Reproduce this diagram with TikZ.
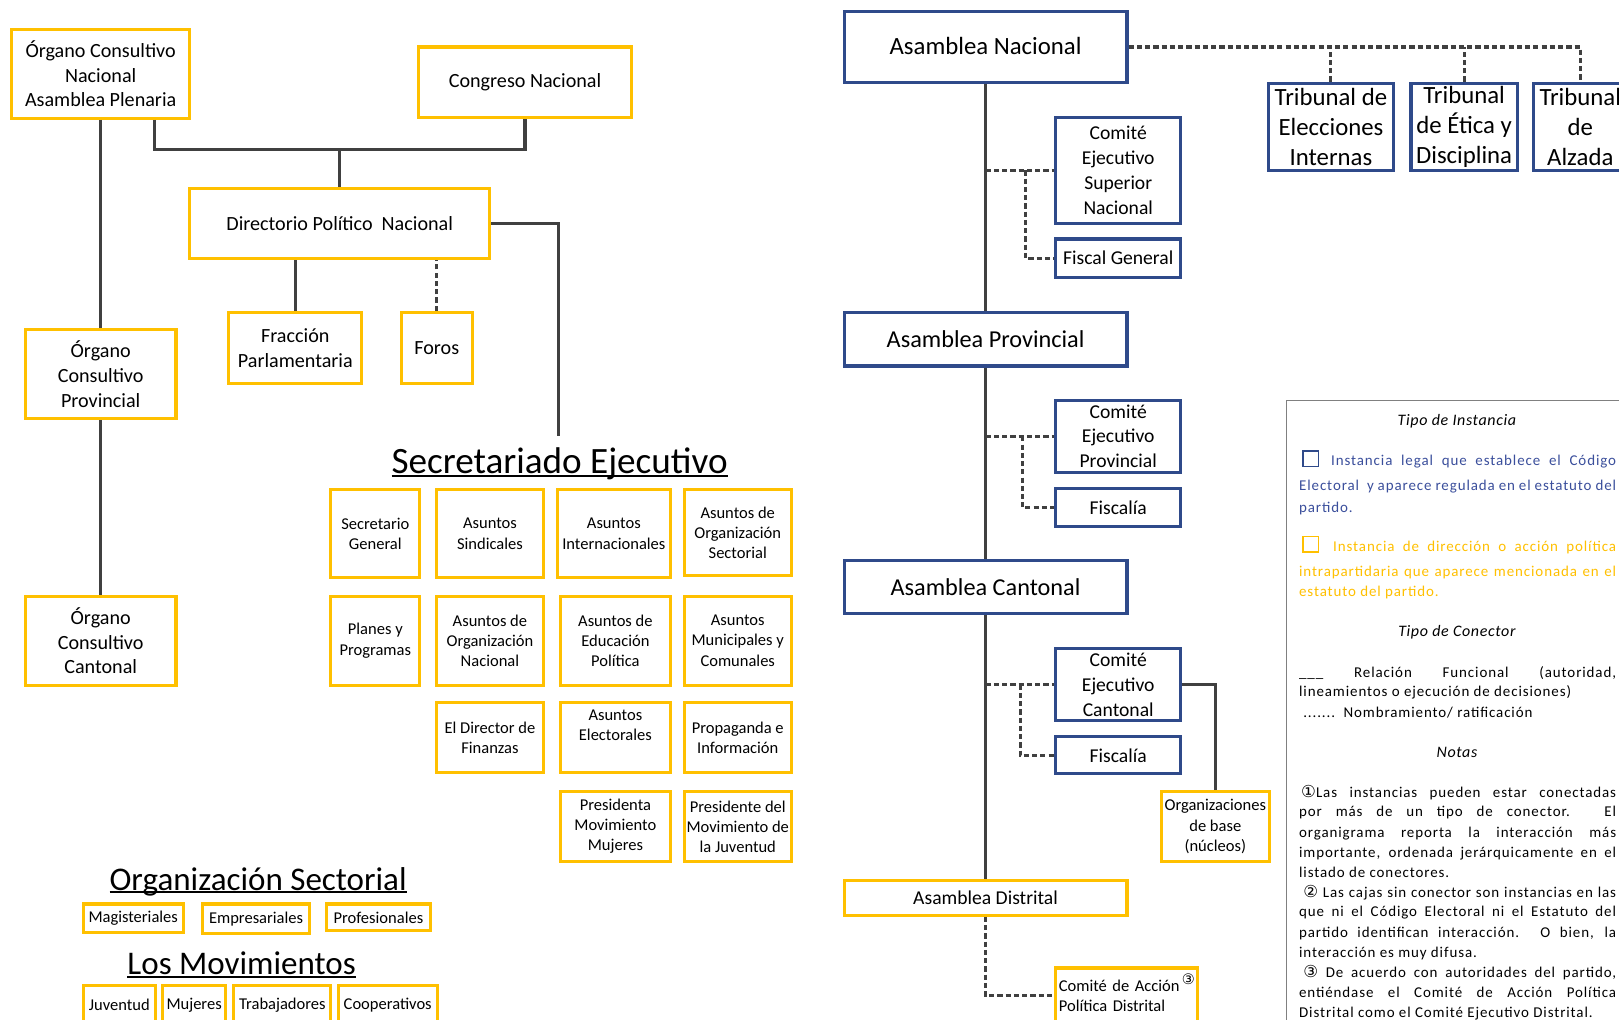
\documentclass[tikz,border=0pt]{standalone}
\usepackage{fontspec}
\setmainfont{Carlito}
\newfontfamily\legfont[LetterSpace=6]{Carlito}
\newfontfamily\headfont[LetterSpace=4]{Carlito}
\newfontfamily\djv{DejaVu Sans}
\definecolor{myyellow}{HTML}{FFC000}
\definecolor{myblue}{HTML}{2F4A8A}
\definecolor{mytext}{HTML}{3B4F9C}
\definecolor{mygray}{HTML}{404040}
\definecolor{legline}{HTML}{808080}
\newcommand\fs[2]{\fontsize{#1}{#2}\selectfont}
\newsavebox\ulbox
\newcommand\ulx[1]{\sbox\ulbox{#1}\rlap{\rule[-0.09em]{\wd\ulbox}{0.055em}}\usebox\ulbox}
\newcommand\circnum[1]{{\djv\fs{16}{16}#1}}
\tikzset{
  box/.style={draw, line width=3pt, inner sep=0pt, anchor=north west, align=center},
  ybox/.style={box, draw=myyellow},
  bbox/.style={box, draw=myblue},
  conn/.style={draw=mygray, line width=3pt},
  nomb/.style={conn, dash pattern=on 5pt off 3pt},
  gridtxt/.style={font=\fs{16}{19.5}},
  legtxt/.style={anchor=base west, inner sep=0pt, font=\legfont\fs{14.5}{17}},
  leghead/.style={inner sep=0pt, font=\headfont\itshape\fs{15.5}{17}},
  title/.style={inner sep=0pt, anchor=base, font=\fs{32}{34}},
}
\newcommand\jl[4]{\node[legtxt] (#1) at (#2,#3) {\makebox[\dimexpr1565pt-#2pt\relax][s]{#4}};}
\begin{document}
\begin{tikzpicture}[x=1pt,y=-1pt]
\useasboundingbox (0,0) rectangle (1568,987);
\fill[white] (0,0) rectangle (1568,987);

% ---------------- left part ----------------
\node[ybox, minimum width=172, minimum height=86, font=\fs{19.5}{24}] (ocn) at (10,27) {Órgano Consultivo\\Nacional\\Asamblea Plenaria};
\node[ybox, minimum width=206, minimum height=68, font=\fs{19.5}{24}] (cn) at (404,44) {Congreso Nacional};
\node[ybox, minimum width=291, minimum height=68, font=\fs{19.5}{24}] (dpn) at (182,181) {Directorio Político~ Nacional};
\node[ybox, minimum width=129, minimum height=69, font=\fs{19.5}{24}] (fp) at (220,301) {Fracción\\Parlamentaria};
\node[ybox, minimum width=69, minimum height=69, font=\fs{19.5}{24}] (foros) at (387,301) {Foros};
\node[ybox, minimum width=146, minimum height=86, font=\fs{19.5}{24}] (ocp) at (23,318) {Órgano\\Consultivo\\Provincial};
\node[ybox, minimum width=146, minimum height=86, font=\fs{19.5}{24}] (occ) at (23,576) {Órgano\\Consultivo\\Cantonal};

\coordinate (j1) at (0,145);
\coordinate (seTop) at (541,422);
\draw[conn] (ocn.south) -- (ocp.north);
\draw[conn] (ocp.south) -- (occ.north);
\draw[conn] ([xshift=52pt]ocn.south) |- (cn.south |- j1) -- (cn.south);
\draw[conn] (dpn.north) -- (dpn.north |- j1);
\draw[conn] (fp.north) -- (fp.north |- dpn.south);
\draw[nomb] (foros.north) -- (foros.north |- dpn.south);
\draw[conn] (dpn.east) -| (seTop);

\node[title, font=\fs{36}{38}] (se) at (542,459) {\ulx{Secretariado Ejecutivo}};

% grid
\node[ybox, gridtxt, minimum width=86, minimum height=85] (g11) at (319,473) {Secretario\\General};
\node[ybox, gridtxt, minimum width=104, minimum height=85] (g12) at (421,473) {Asuntos\\Sindicales};
\node[ybox, gridtxt, minimum width=110, minimum height=85] (g13) at (538,473) {Asuntos\\Internacionales};
\node[ybox, gridtxt, minimum width=104, minimum height=83] (g14) at (661,473) {Asuntos de\\Organización\\Sectorial};
\node[ybox, gridtxt, minimum width=86, minimum height=86] (g21) at (319,576) {Planes y\\Programas};
\node[ybox, gridtxt, minimum width=104, minimum height=86] (g22) at (421,576) {Asuntos de\\Organización\\Nacional};
\node[ybox, gridtxt, minimum width=107, minimum height=86] (g23) at (541,576) {Asuntos de\\Educación\\Política};
\node[ybox, gridtxt, minimum width=104, minimum height=86] (g24) at (661,576) {Asuntos\\Municipales y\\Comunales};
\node[ybox, gridtxt, minimum width=104, minimum height=68] (g32) at (421,679) {El Director de\\Finanzas};
\node[ybox, gridtxt, minimum width=107, minimum height=68] (g33) at (541,679) {Asuntos\\Electorales\\[4pt]};
\node[ybox, gridtxt, minimum width=104, minimum height=68] (g34) at (661,679) {Propaganda e\\Información};
\node[ybox, gridtxt, minimum width=107, minimum height=68] (g43) at (541,765) {Presidenta\\Movimiento\\Mujeres};
\node[ybox, gridtxt, minimum width=104, minimum height=68] (g44) at (661,765) {Presidente del\\Movimiento de\\la Juventud};

% organizacion sectorial
\node[title] (os) at (250,862) {\ulx{Organización Sectorial}};
\node[ybox, gridtxt, minimum width=97, minimum height=28] (mag) at (79,874) {Magisteriales};
\node[ybox, gridtxt, minimum width=103, minimum height=29] (emp) at (195,874) {Empresariales};
\node[ybox, gridtxt, minimum width=100, minimum height=26] (pro) at (315,874) {Profesionales};
\node[title] (lm) at (234,944) {\ulx{Los Movimientos}};
\node[ybox, gridtxt, minimum width=70, minimum height=38] (juv) at (79,953) {Juventud};
\node[ybox, gridtxt, minimum width=61, minimum height=38] (muj) at (156,953) {Mujeres};
\node[ybox, gridtxt, minimum width=94, minimum height=38] (tra) at (225,953) {Trabajadores};
\node[ybox, gridtxt, minimum width=96, minimum height=38] (coo) at (326,953) {Cooperativos};

% ---------------- right part ----------------
\node[bbox, minimum width=274, minimum height=68, font=\fs{24}{29}] (an) at (816,10) {\raisebox{2pt}{Asamblea Nacional}};
\node[bbox, minimum width=121, minimum height=85, font=\fs{24}{29}] (t1) at (1227,79) {Tribunal de\\Elecciones\\Internas};
\node[bbox, minimum width=103, minimum height=85, font=\fs{24}{29}] (t2) at (1365,79) {Tribunal\\de Ética y\\Disciplina};
\node[bbox, minimum width=90, minimum height=85, font=\fs{24}{29}] (t3) at (1484,79) {Tribunal\\de\\Alzada};
\node[bbox, minimum width=121, minimum height=103, font=\fs{19}{24.3}] (cesn) at (1021,112) {Comité\\Ejecutivo\\Superior\\Nacional};
\node[bbox, minimum width=121, minimum height=37, font=\fs{19}{24}] (fg) at (1021,230) {\raisebox{-2pt}{Fiscal General}};
\node[bbox, minimum width=274, minimum height=52, font=\fs{23.5}{29}] (pr) at (816,301) {Asamblea Provincial};
\node[bbox, minimum width=121, minimum height=70, font=\fs{19}{24}] (cep) at (1021,386) {Comité\\Ejecutivo\\Provincial};
\node[bbox, minimum width=121, minimum height=36, font=\fs{19}{24}] (fi1) at (1021,472) {\raisebox{-3pt}{Fiscalía}};
\node[bbox, minimum width=274, minimum height=52, font=\fs{23.5}{29}] (ca) at (816,541) {Asamblea Cantonal};
\node[bbox, minimum width=121, minimum height=69, font=\fs{19}{24}] (cec) at (1021,627) {Comité\\Ejecutivo\\Cantonal};
\node[bbox, minimum width=121, minimum height=36, font=\fs{19}{24}] (fi2) at (1021,712) {\raisebox{-3pt}{Fiscalía}};
\node[ybox, minimum width=105, minimum height=68, font=\fs{16}{19.5}] (ob) at (1123,765) {Organizaciones\\de base\\(núcleos)};
\node[ybox, minimum width=274, minimum height=34, font=\fs{19}{24}] (di) at (816,851) {Asamblea Distrital};
\node[ybox, minimum width=137, minimum height=54, font=\fs{16}{19}, text width=131pt, inner xsep=3pt, align=left] (cap) at (1021,936) {Comité de Acción\\Política Distrital};
\node[inner sep=0pt, font=\djv\fs{14}{14}] (n3) at (1151,948) {③};

\draw[conn] (an.south) -- (pr.north);
\draw[conn] (pr.south) -- (ca.north);
\draw[conn] (ca.south) -- (di.north);
\draw[nomb] (an.east) -| (t3.north);
\draw[nomb] (t1.north) -- (t1.north |- an.east);
\draw[nomb] (t2.north) -- (t2.north |- an.east);
\draw[nomb] (an.south |- cesn.west) -- (cesn.west);
\draw[nomb] ([xshift=-28pt]cesn.west) |- (fg.west);
\draw[nomb] (pr.south |- cep.west) -- (cep.west);
\draw[nomb] ([xshift=-31pt]cep.west) |- (fi1.west);
\draw[nomb] (ca.south |- cec.west) -- (cec.west);
\draw[nomb] ([xshift=-33pt]cec.west) |- (fi2.west);
\draw[conn] (cec.east) -| (ob.north);
\draw[nomb] (di.south) |- (cap.west);

% ---------------- legend ----------------
\node[draw=legline, line width=1.5pt, anchor=north west, minimum width=360, minimum height=630, inner sep=0pt] (leg) at (1245,387) {};
\node[leghead] (h1) at (1411,408) {Tipo de Instancia};
\node[draw=myblue, line width=1.5pt, minimum size=15pt, inner sep=0pt, anchor=north west] (sq1) at (1261,436) {};
\begin{scope}[every node/.append style={text=mytext}]
\jl{l1}{1289}{451}{Instancia legal que establece el Código}
\jl{l2}{1258}{475}{Electoral\ \ y aparece regulada en el estatuto del}
\node[legtxt] (l3) at (1258,496) {partido.};
\end{scope}
\node[draw=myyellow, line width=1.5pt, minimum size=15pt, inner sep=0pt, anchor=north west] (sq2) at (1261,519) {};
\begin{scope}[every node/.append style={text=myyellow}]
\jl{l4}{1291}{534}{Instancia de dirección o acción política}
\jl{l5}{1258}{558}{intrapartidaria que aparece mencionada en el}
\node[legtxt] (l6) at (1258,578) {estatuto del partido.};
\end{scope}
\node[leghead] (h2) at (1411,612) {Tipo de Conector};
\jl{l7}{1258}{656}{\_\_\_ Relación Funcional (autoridad,}
\node[legtxt] (l8) at (1258,675) {lineamientos o ejecución de decisiones)};
\node[legtxt] (l9) at (1262,695) {.......\ \ Nombramiento/ ratificación};
\node[leghead] (h3) at (1411,729) {Notas};
\jl{n1}{1260}{772}{\circnum{①}Las instancias pueden estar conectadas}
\jl{n2}{1258}{791}{por más de un tipo de conector. El}
\jl{n3l}{1258}{811}{organigrama reporta la interacción más}
\jl{n4}{1258}{830}{importante, ordenada jerárquicamente en el}
\node[legtxt] (n5) at (1258,850) {listado de conectores.};
\jl{n6}{1262}{869}{\circnum{②} Las cajas sin conector son instancias en las}
\jl{n7}{1258}{888}{que ni el Código Electoral ni el Estatuto del}
\jl{n8}{1258}{908}{partido identifican interacción. O bien, la}
\node[legtxt] (n9) at (1258,927) {interacción es muy difusa.};
\jl{n10}{1262}{947}{\circnum{③} De acuerdo con autoridades del partido,}
\jl{n11}{1258}{966}{entiéndase el Comité de Acción Política}
\node[legtxt] (n12) at (1258,985) {Distrital como el Comité Ejecutivo Distrital.};
\end{tikzpicture}
\end{document}
